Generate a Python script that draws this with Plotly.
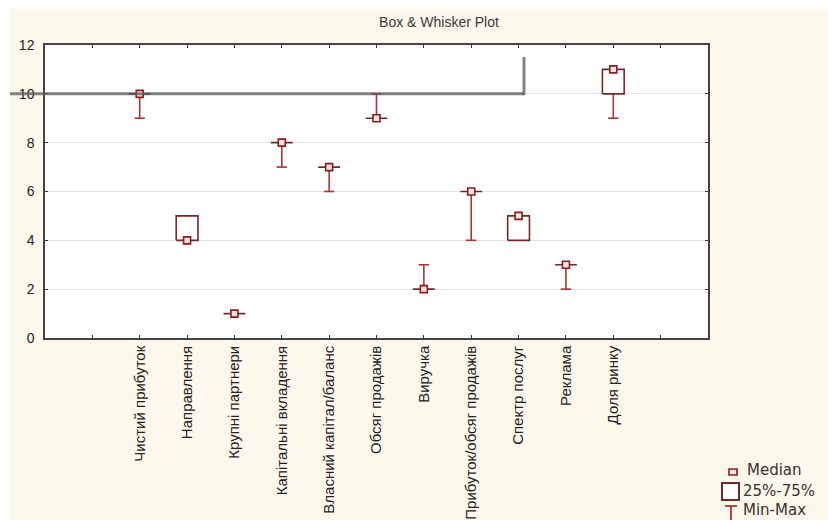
import plotly.graph_objects as go

# Categories and box statistics (min, 25%, median, 75%, max)
categories = [
    "Чистий прибуток",
    "Направлення",
    "Крупні партнери",
    "Капітальні вкладення",
    "Власний капітал/баланс",
    "Обсяг продажів",
    "Виручка",
    "Прибуток/обсяг продажів",
    "Спектр послуг",
    "Реклама",
    "Доля ринку",
]
minimum = [9, 4, 1, 7, 6, 9, 2, 4, 4, 2, 9]
q25 = [10, 4, 1, 8, 7, 9, 2, 6, 4, 3, 10]
median = [10, 4, 1, 8, 7, 9, 2, 6, 5, 3, 11]
q75 = [10, 5, 1, 8, 7, 9, 2, 6, 5, 3, 11]
maximum = [10, 5, 1, 8, 7, 10, 3, 6, 5, 3, 11]

y_ticks = [0, 2, 4, 6, 8, 10, 12]

# Category positions: one empty slot at each end of the axis
xpos = list(range(1, len(categories) + 1))
tick_positions = list(range(0, len(categories) + 2))
tick_text = [""] + categories + [""]

BOX_W = 0.46
CAP_W = 0.22
BOX_COLOR = "#6e2a2a"
WHISKER_COLOR = "#a83434"
MEDIAN_COLOR = "#8b1c1c"

# Page geometry (pixels) used for decorations outside the data
W, H = 828, 520
PL, PR, PT, PB = 45, 708, 45, 338


def px_x(p):
    return (p - PL) / (PR - PL)


def px_y(p):
    return (PB - p) / (PB - PT)


# Whiskers with caps
wx, wy = [], []
for x, lo, a, b, hi in zip(xpos, minimum, q25, q75, maximum):
    if hi > b:
        wx += [x, x, None, x - CAP_W / 2, x + CAP_W / 2, None]
        wy += [b, hi, None, hi, hi, None]
    if lo < a:
        wx += [x, x, None, x - CAP_W / 2, x + CAP_W / 2, None]
        wy += [a, lo, None, lo, lo, None]

# Boxes (25%-75%)
bx, by = [], []
for x, a, b in zip(xpos, q25, q75):
    x0, x1 = x - BOX_W / 2, x + BOX_W / 2
    bx += [x0, x1, x1, x0, x0, None]
    by += [a, a, b, b, a, None]

fig = go.Figure()
fig.add_trace(go.Scatter(
    x=wx, y=wy, mode="lines",
    line=dict(color=WHISKER_COLOR, width=1.6),
    hoverinfo="skip", showlegend=False,
))
fig.add_trace(go.Scatter(
    x=bx, y=by, mode="lines", fill="toself", fillcolor="white",
    line=dict(color=BOX_COLOR, width=1.6),
    hoverinfo="skip", showlegend=False,
))
fig.add_trace(go.Scatter(
    x=xpos, y=median, mode="markers",
    marker=dict(symbol="square", size=7, color="#f6e6e6",
                line=dict(color=MEDIAN_COLOR, width=1.6)),
    showlegend=False,
))

shapes = []
# White border strips around the cream page
shapes.append(dict(type="rect", xref="paper", yref="paper", layer="below",
                   x0=px_x(0), x1=px_x(W), y0=px_y(0), y1=px_y(9),
                   fillcolor="white", line=dict(width=0)))
shapes.append(dict(type="rect", xref="paper", yref="paper", layer="below",
                   x0=px_x(0), x1=px_x(10), y0=px_y(H), y1=px_y(0),
                   fillcolor="white", line=dict(width=0)))
# Grey overlay frame edge crossing the plot
shapes.append(dict(type="line", xref="paper", yref="y",
                   x0=px_x(10), x1=px_x(524), y0=10, y1=10,
                   line=dict(color="rgba(90,90,90,0.75)", width=3)))
shapes.append(dict(type="line", xref="paper", yref="paper",
                   x0=px_x(524), x1=px_x(524), y0=px_y(95), y1=px_y(57),
                   line=dict(color="rgba(90,90,90,0.75)", width=3)))

# Legend symbols
shapes.append(dict(type="rect", xref="paper", yref="paper",
                   x0=px_x(729), x1=px_x(737), y0=px_y(475), y1=px_y(469),
                   fillcolor="#f6e6e6", line=dict(color=MEDIAN_COLOR, width=1.6)))
shapes.append(dict(type="rect", xref="paper", yref="paper",
                   x0=px_x(722), x1=px_x(739), y0=px_y(500), y1=px_y(483),
                   fillcolor="white", line=dict(color=BOX_COLOR, width=2)))
shapes.append(dict(type="line", xref="paper", yref="paper",
                   x0=px_x(731), x1=px_x(731), y0=px_y(522), y1=px_y(506),
                   line=dict(color=WHISKER_COLOR, width=1.8)))
shapes.append(dict(type="line", xref="paper", yref="paper",
                   x0=px_x(725), x1=px_x(737), y0=px_y(506), y1=px_y(506),
                   line=dict(color=WHISKER_COLOR, width=1.8)))

legend_font = dict(family="DejaVu Sans, Verdana, sans-serif", size=15, color="#3a3030")
annotations = [
    dict(text="Median", x=px_x(745), y=px_y(470)),
    dict(text="25%-75%", x=px_x(741), y=px_y(491)),
    dict(text="Min-Max", x=px_x(741), y=px_y(510)),
]
for a in annotations:
    a.update(xref="paper", yref="paper", xanchor="left", yanchor="middle",
             showarrow=False, font=legend_font)

fig.update_layout(
    width=W, height=H,
    margin=dict(l=PL, r=W - PR, t=PT, b=H - PB, pad=0, autoexpand=False),
    paper_bgcolor="#fdf8ec",
    plot_bgcolor="white",
    title=dict(text="Box & Whisker Plot", x=439 / W, y=1 - 22 / H,
               xanchor="center", yanchor="middle",
               font=dict(family="Liberation Sans, Arial, sans-serif", size=14, color="#3a3a3a")),
    font=dict(family="Liberation Sans, Arial, sans-serif", color="#333"),
    shapes=shapes,
    annotations=annotations,
    showlegend=False,
)
fig.update_xaxes(
    range=[-1, len(categories) + 2], automargin=False,
    tickmode="array", tickvals=tick_positions, ticktext=tick_text,
    tickangle=-90, tickfont=dict(size=15, color="#222"),
    ticks="inside", ticklen=3, tickcolor="#333",
    showline=True, linecolor="#444", linewidth=1.5, mirror="ticks",
    showgrid=False, zeroline=False,
)
fig.update_yaxes(
    range=[0, 12], automargin=False,
    tickmode="array", tickvals=y_ticks,
    tickfont=dict(size=14, color="#222"),
    ticks="inside", ticklen=3, tickcolor="#333", ticklabelstandoff=6,
    showline=True, linecolor="#444", linewidth=1.5, mirror="ticks",
    showgrid=True, gridcolor="#e2e2e2", gridwidth=1, zeroline=False,
)

fig.write_html("out.html")
